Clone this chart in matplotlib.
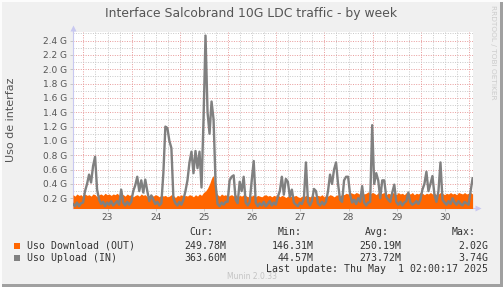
import numpy as np
import matplotlib
matplotlib.use("Agg")
import matplotlib.pyplot as plt
from matplotlib.patches import Rectangle

# hourly samples, first sample = Apr 22 18:48 (hours relative to Apr 23 00:00)
start_hour = -5.2

download = [
    0.25, 0.23, 0.26, 0.24, 0.25, 0.22, 0.26, 0.24, 0.25, 0.23, 0.26, 0.25, 0.22, 0.25, 0.26, 0.24, 0.27, 0.25, 0.26, 0.24,
    0.26, 0.25, 0.27, 0.24, 0.26, 0.25, 0.23, 0.26, 0.24, 0.25, 0.22, 0.24, 0.25, 0.23, 0.26, 0.24, 0.25, 0.22, 0.24, 0.25,
    0.23, 0.25, 0.24, 0.22, 0.25, 0.23, 0.24, 0.22, 0.23, 0.25, 0.24, 0.21, 0.24, 0.23, 0.25, 0.22, 0.24, 0.23, 0.25, 0.24,
    0.22, 0.25, 0.23, 0.26, 0.24, 0.28, 0.30, 0.34, 0.40, 0.48, 0.52, 0.30, 0.25, 0.23, 0.26, 0.24, 0.25, 0.22, 0.24, 0.25,
    0.23, 0.25, 0.22, 0.24, 0.23, 0.25, 0.24, 0.22, 0.24, 0.23, 0.25, 0.22, 0.24, 0.23, 0.22, 0.24, 0.25, 0.23, 0.24, 0.22,
    0.24, 0.23, 0.25, 0.22, 0.24, 0.23, 0.21, 0.23, 0.24, 0.22, 0.23, 0.24, 0.22, 0.21, 0.23, 0.22, 0.24, 0.23, 0.22, 0.24,
    0.23, 0.22, 0.24, 0.23, 0.25, 0.22, 0.24, 0.23, 0.25, 0.24, 0.22, 0.24, 0.25, 0.23, 0.26, 0.25, 0.27, 0.26, 0.28, 0.27,
    0.26, 0.28, 0.27, 0.25, 0.28, 0.26, 0.27, 0.29, 0.26, 0.28, 0.27, 0.25, 0.28, 0.26, 0.27, 0.28, 0.25, 0.27, 0.26, 0.28,
    0.27, 0.25, 0.28, 0.26, 0.27, 0.25, 0.28, 0.27, 0.26, 0.28, 0.25, 0.27, 0.26, 0.28, 0.27, 0.25, 0.27, 0.26, 0.28, 0.26,
    0.27, 0.25, 0.26, 0.28, 0.27, 0.25, 0.27, 0.26, 0.28, 0.26, 0.27, 0.25, 0.28, 0.27, 0.26, 0.28, 0.26, 0.27, 0.28, 0.26,
]

upload = [
    0.12, 0.09, 0.14, 0.09, 0.13, 0.14, 0.30, 0.40, 0.53, 0.42, 0.65, 0.78, 0.32, 0.18, 0.12, 0.15, 0.09, 0.14, 0.11, 0.16,
    0.10, 0.13, 0.16, 0.11, 0.32, 0.14, 0.10, 0.15, 0.11, 0.15, 0.30, 0.38, 0.50, 0.30, 0.45, 0.28, 0.46, 0.30, 0.16, 0.24,
    0.18, 0.12, 0.15, 0.10, 0.13, 0.55, 1.20, 1.18, 1.00, 0.90, 0.20, 0.13, 0.10, 0.15, 0.11, 0.18, 0.30, 0.45, 0.70, 0.85,
    0.55, 0.86, 0.62, 0.85, 0.35, 1.30, 2.47, 1.40, 1.10, 1.55, 1.30, 0.40, 0.12, 0.09, 0.14, 0.11, 0.15, 0.15, 0.45, 0.50,
    0.52, 0.18, 0.13, 0.43, 0.30, 0.50, 0.14, 0.10, 0.15, 0.45, 0.72, 0.14, 0.09, 0.13, 0.10, 0.15, 0.09, 0.12, 0.16, 0.10,
    0.14, 0.11, 0.22, 0.30, 0.50, 0.25, 0.47, 0.43, 0.22, 0.32, 0.14, 0.11, 0.09, 0.14, 0.12, 0.20, 0.70, 0.15, 0.10, 0.16,
    0.33, 0.30, 0.13, 0.10, 0.15, 0.11, 0.15, 0.30, 0.53, 0.40, 0.60, 0.70, 0.40, 0.18, 0.15, 0.45, 0.50, 0.50, 0.25, 0.14,
    0.18, 0.12, 0.20, 0.15, 0.37, 0.14, 0.10, 0.14, 0.15, 1.22, 0.40, 0.55, 0.45, 0.20, 0.45, 0.45, 0.22, 0.18, 0.15, 0.28,
    0.39, 0.15, 0.11, 0.15, 0.10, 0.14, 0.16, 0.28, 0.14, 0.11, 0.13, 0.16, 0.12, 0.18, 0.32, 0.40, 0.57, 0.30, 0.40, 0.51,
    0.25, 0.15, 0.30, 0.70, 0.18, 0.14, 0.11, 0.16, 0.12, 0.20, 0.14, 0.11, 0.16, 0.12, 0.10, 0.15, 0.13, 0.11, 0.30, 0.48,
]

day_labels = ["23", "24", "25", "26", "27", "28", "29", "30"]
ytick_vals = [0.2, 0.4, 0.6, 0.8, 1.0, 1.2, 1.4, 1.6, 1.8, 2.0, 2.2, 2.4]

legend_names = ["Uso Download (OUT)", "Uso Upload (IN)"]
cur_vals = ["249.78M", "363.60M"]
min_vals = ["146.31M", "44.57M"]
avg_vals = ["250.19M", "273.72M"]
max_vals = ["2.02G", "3.74G"]

ORANGE = "#ff6600"
GRAY = "#808080"
TXT = "#555555"

W, H = 503, 287
fig = plt.figure(figsize=(W / 100, H / 100), dpi=100, facecolor="#f0f0f0")


def fx(px):
    return px / W


def fy(py):
    return 1 - py / H


ax = fig.add_axes([fx(73), fy(207.5), fx(400), (207.5 - 32) / H])
ax.set_facecolor("white")

hours = start_hour + np.arange(len(download))
ax.fill_between(hours, 0, download, color=ORANGE, lw=0, zorder=3)
ax.plot(hours, upload, color=GRAY, lw=1.7, zorder=4)

ax.set_xlim(start_hour, start_hour + 199.2)
ax.set_ylim(0.071, 2.52)

# grid
minor_h = np.arange(0, 200, 6)
for h in minor_h:
    if h % 24 == 0:
        ax.axvline(h, color="#e89a9a", lw=0.7, ls=(0, (1, 1.5)), zorder=1)
    else:
        ax.axvline(h, color="#c8c8c8", lw=0.7, ls=(0, (1, 1.5)), zorder=1)
for i in range(1, 26):
    v = i * 0.1
    if i % 2 == 0:
        ax.axhline(v, color="#e89a9a", lw=0.7, ls=(0, (1, 1.5)), zorder=1)
    else:
        ax.axhline(v, color="#c8c8c8", lw=0.7, ls=(0, (1, 1.5)), zorder=1)

ax.set_yticks(ytick_vals)
ax.set_yticklabels(["%.1f G" % v for v in ytick_vals], fontsize=6.5, color=TXT)
ax.set_xticks([12 + 24 * k for k in range(len(day_labels))])
ax.set_xticklabels(day_labels, fontsize=6.5, color=TXT)
ax.tick_params(axis="both", length=2, width=0.6, color="#c0c0c0", pad=2)

for s in ["top", "right"]:
    ax.spines[s].set_visible(False)
for s in ["left", "bottom"]:
    ax.spines[s].set_color("#c8c8f0")
    ax.spines[s].set_linewidth(0.8)
ax.plot([0, 1.013], [0, 0], transform=ax.transAxes, color="#c8c8f0", lw=0.8, clip_on=False)
ax.plot([1.013], [0], transform=ax.transAxes, marker=">", ms=4, color="#c8c8f0", clip_on=False, mec="none")
ax.plot([0, 0], [1, 1.02], transform=ax.transAxes, color="#c8c8f0", lw=0.8, clip_on=False)
ax.plot([0], [1.025], transform=ax.transAxes, marker="^", ms=4, color="#c8c8f0", clip_on=False, mec="none")

fig.text(0.5, fy(13), "Interface Salcobrand 10G LDC traffic - by week",
         ha="center", va="center", fontsize=8.9, color=TXT)
fig.text(fx(11), fy(120), "Uso de interfaz", rotation=90, ha="center", va="center",
         fontsize=8, color=TXT)
fig.text(fx(493), fy(5), "RRDTOOL / TOBI OETIKER", rotation=270, ha="center", va="top",
         fontsize=5.3, color="#cccccc")

mono = dict(family="DejaVu Sans Mono", fontsize=7.1, color="#333333", va="center")
for lab, xr in zip(["Cur:", "Min:", "Avg:", "Max:"], [213, 302, 389, 476]):
    fig.text(fx(xr), fy(232.3), lab, ha="right", **mono)
rows_y = [245.7, 257.7]
for k, (name, c) in enumerate(zip(legend_names, [ORANGE, GRAY])):
    y = rows_y[k]
    fig.patches.append(Rectangle((fx(14), fy(y + 3)), fx(6), 6 / H, transform=fig.transFigure,
                                 facecolor=c, edgecolor="none"))
    fig.text(fx(26.7), fy(y), name, ha="left", **mono)
    fig.text(fx(226), fy(y), cur_vals[k], ha="right", **mono)
    fig.text(fx(314), fy(y), min_vals[k], ha="right", **mono)
    fig.text(fx(401), fy(y), avg_vals[k], ha="right", **mono)
    fig.text(fx(488), fy(y), max_vals[k], ha="right", **mono)
fig.text(fx(488), fy(269.3), "Last update: Thu May  1 02:00:17 2025", ha="right", **mono)
fig.text(fx(252), fy(276.7), "Munin 2.0.33", ha="center", va="center", fontsize=5.5, color="#c4c4c4")

# frame
fig.patches.append(Rectangle((fx(500), 0), fx(3), 1, transform=fig.transFigure,
                             facecolor="#a0a0a0", edgecolor="none"))
fig.patches.append(Rectangle((0, 0), 1, 3 / H, transform=fig.transFigure,
                             facecolor="#a0a0a0", edgecolor="none"))
fig.patches.append(Rectangle((0, fy(2)), 1, 2 / H, transform=fig.transFigure,
                             facecolor="#fcfcfc", edgecolor="none"))
fig.patches.append(Rectangle((0, 0), fx(2), 1, transform=fig.transFigure,
                             facecolor="#fcfcfc", edgecolor="none"))

fig.savefig("out.png", dpi=100, facecolor=fig.get_facecolor())
